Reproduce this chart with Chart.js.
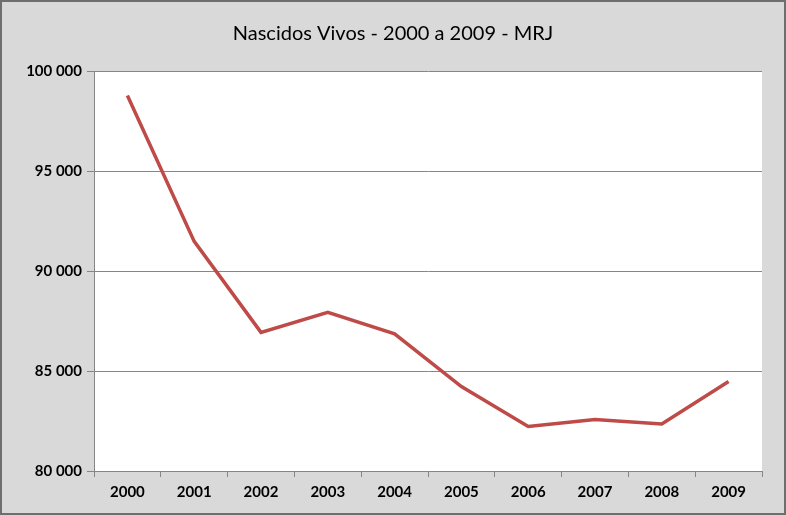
<!DOCTYPE html>
<html>
<head>
  <title>Nascidos Vivos - 2000 a 2009 - MRJ</title>
  <script src="https://cdn.jsdelivr.net/npm/chart.js"></script>
  <style>
    body { margin: 0; background: #fff; }
    #frame {
      width: 786px; height: 515px; box-sizing: border-box;
      border: 2px solid #6e6e6e; background: #d9d9d9;
    }
  </style>
</head>
<body>
  <div id="frame">
    <canvas id="birthChart" width="782" height="511"></canvas>
  </div>

  <script>
    // data
    const years = ['2000', '2001', '2002', '2003', '2004', '2005', '2006', '2007', '2008', '2009'];
    const births = [98780, 91480, 86930, 87930, 86860, 84220, 82230, 82570, 82350, 84480];
    const yTicks = [80000, 85000, 90000, 95000, 100000];

    const ctx = document.getElementById('birthChart').getContext('2d');

    // white plot area only
    const plotBg = {
      id: 'plotBg',
      beforeDraw(chart) {
        const a = chart.chartArea;
        const c = chart.ctx;
        c.save();
        c.fillStyle = '#ffffff';
        c.fillRect(a.left, a.top, a.right - a.left, a.bottom - a.top);
        c.restore();
      }
    };

    new Chart(ctx, {
      type: 'line',
      data: {
        labels: years,
        datasets: [{
          label: 'Nascidos Vivos',
          data: births,
          borderColor: '#be4b48',
          borderWidth: 3.5,
          pointRadius: 0,
          tension: 0,
          fill: false
        }]
      },
      options: {
        responsive: false,
        animation: false,
        layout: { padding: { left: 0, right: 0, top: 0, bottom: 6 } },
        plugins: {
          legend: { display: false },
          tooltip: { enabled: false },
          title: {
            display: true,
            text: 'Nascidos Vivos - 2000 a 2009 - MRJ',
            color: '#000',
            font: { family: 'Lato', size: 20, weight: 'normal' },
            padding: { top: 20, bottom: 25 }
          }
        },
        scales: {
          x: {
            offset: true,
            grid: {
              offset: true,
              drawOnChartArea: false,
              drawTicks: true,
              tickLength: 6,
              color: '#868686'
            },
            border: { display: true, color: '#868686', width: 1 },
            ticks: {
              color: '#000',
              padding: 6,
              maxRotation: 0,
              font: { family: 'Lato', size: 15, weight: 'bold' }
            },
            afterFit(scale) { scale.height = 36; }
          },
          y: {
            min: 80000,
            max: 100000,
            afterBuildTicks(scale) { scale.ticks = yTicks.map(v => ({ value: v })); },
            grid: {
              color: '#868686',
              drawTicks: true,
              tickLength: 7
            },
            border: { display: true, color: '#868686', width: 1 },
            ticks: {
              color: '#000',
              padding: 5,
              font: { family: 'Lato', size: 15, weight: 'bold' },
              callback: v => String(v).replace(/\B(?=(\d{3})+(?!\d))/g, ' ')
            },
            afterFit(scale) { scale.width = 92; }
          },
          // empty right margin so the title stays centred on the whole frame
          yRight: {
            position: 'right',
            grid: { display: false },
            border: { display: false },
            ticks: { display: false },
            afterFit(scale) { scale.width = 22; }
          }
        }
      },
      plugins: [plotBg]
    });
  </script>
</body>
</html>
